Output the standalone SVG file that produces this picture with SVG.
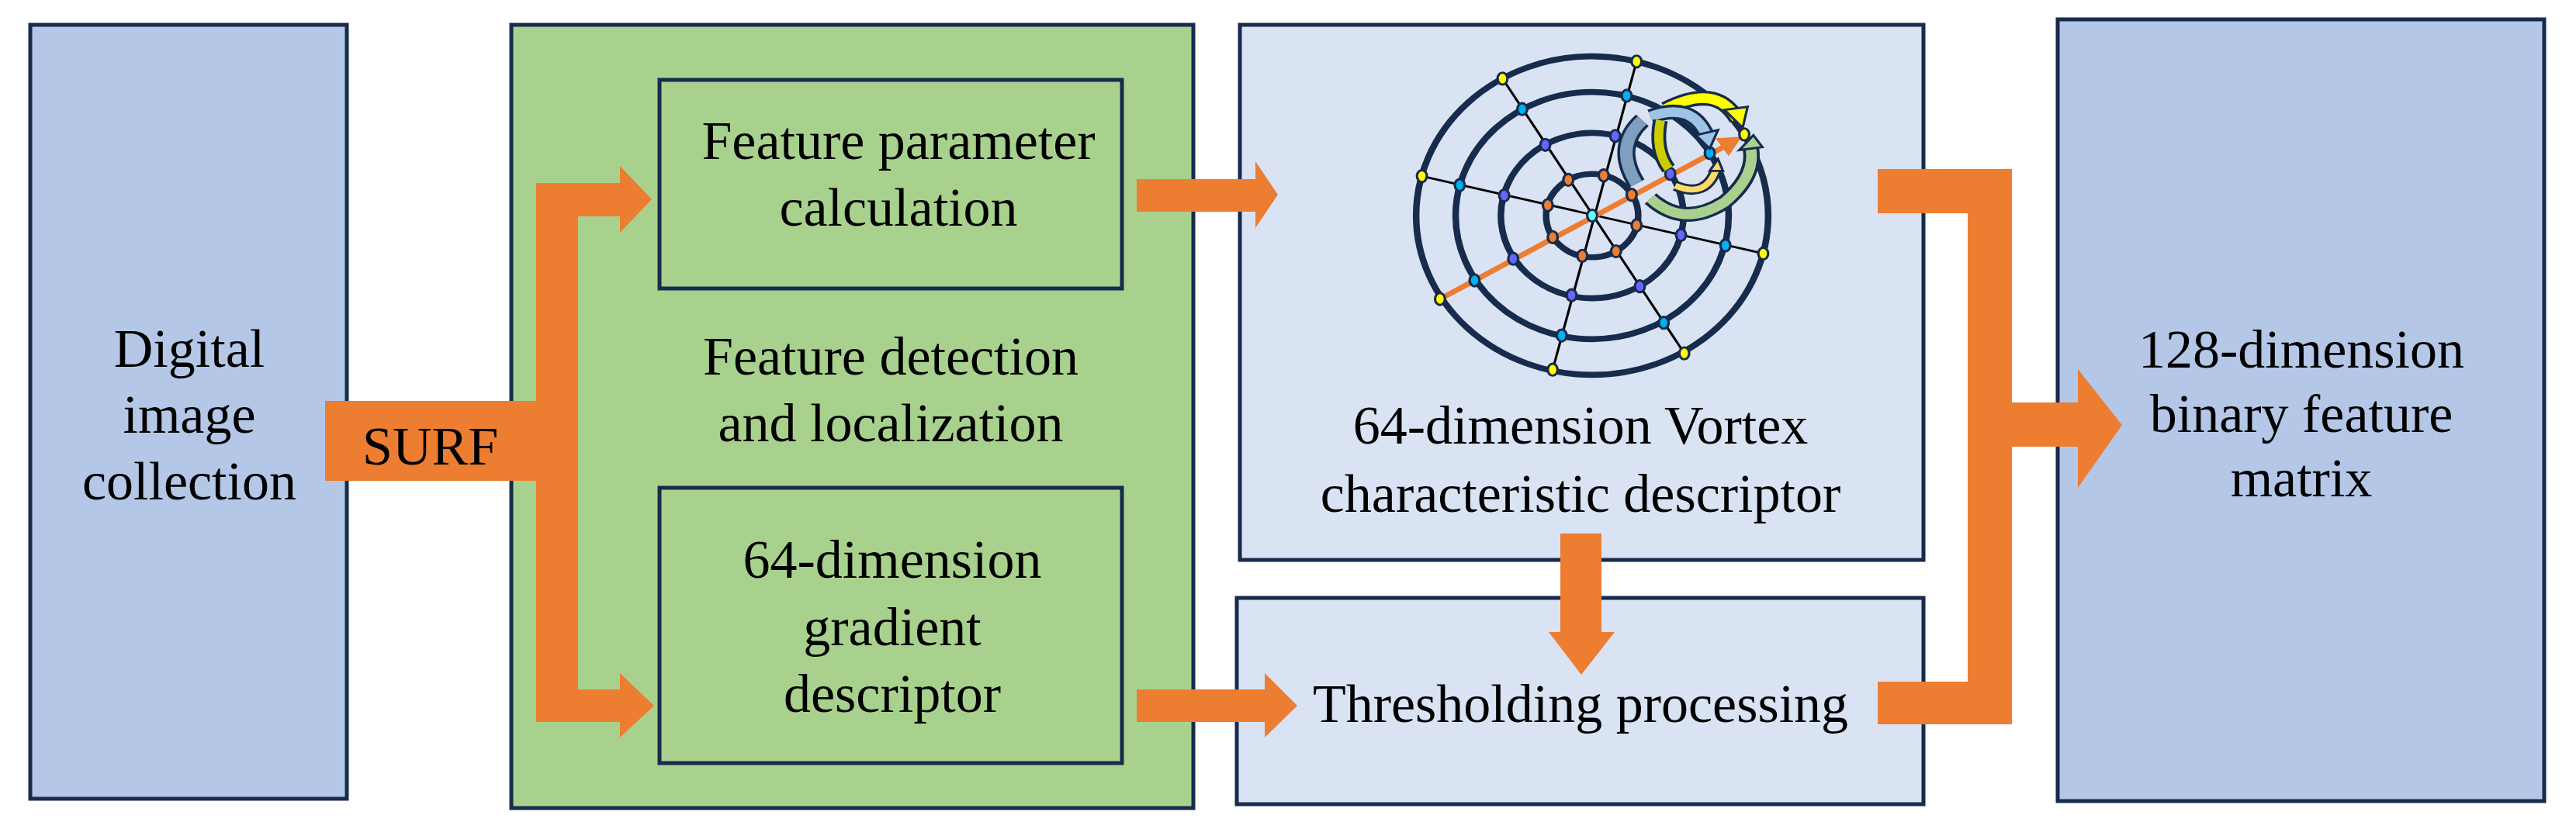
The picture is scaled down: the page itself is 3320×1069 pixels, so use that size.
<svg xmlns="http://www.w3.org/2000/svg" width="3320" height="1069" viewBox="0 0 3320 1069">
<style>
.t{font-family:"Liberation Serif","Times New Roman",serif;font-size:70px;fill:#000;text-anchor:middle}
.bx{stroke:#172B4D;stroke-width:5}
.o{fill:#ED7D31}
.ring{fill:none;stroke:#172B4D;stroke-width:8}
.sp{stroke:#000;stroke-width:3}
.d{stroke:#172B4D;stroke-width:3}
</style>
<rect width="3320" height="1069" fill="#fff"/>
<g id="digital"><rect class="bx" x="39" y="32" width="408" height="998" fill="#B4C7E7"/>
<text class="t" x="244" y="473">Digital</text><text class="t" x="244" y="558">image</text><text class="t" x="244" y="644">collection</text></g>
<g id="detection"><rect class="bx" x="659" y="32" width="879" height="1010" fill="#A9D18E"/>
<text class="t" x="1148" y="483">Feature detection</text><text class="t" x="1148" y="569">and localization</text></g>
<g id="param"><rect class="bx" x="850" y="103" width="596" height="269" fill="#A9D18E"/>
<text class="t" x="1158" y="205">Feature parameter</text><text class="t" x="1158" y="291">calculation</text></g>
<g id="gradient"><rect class="bx" x="850" y="629" width="596" height="355" fill="#A9D18E"/>
<text class="t" x="1150" y="745">64-dimension</text><text class="t" x="1150" y="832">gradient</text><text class="t" x="1150" y="918">descriptor</text></g>
<g id="vortex"><rect class="bx" x="1598" y="32" width="881" height="690" fill="#DAE3F3"/>
<g transform="translate(2052,278) scale(1.06,0.96)">
<circle class="ring" r="214"/><circle class="ring" r="166"/><circle class="ring" r="111"/><circle class="ring" r="56"/>
<line class="sp" x1="54" y1="-207" x2="-48" y2="207"/>
<line class="sp" x1="-109" y1="-184" x2="112" y2="185"/>
<line class="sp" x1="-207" y1="-53" x2="208" y2="51"/>
<line x1="-185" y1="112" x2="168" y2="-97" stroke="#ED7D31" stroke-width="7"/>
<polygon points="182,-106 150,-104 166,-80" fill="#ED7D31"/>
<g fill="#FFFF00" class="d"><ellipse cx="54" cy="-207" rx="6" ry="8"/><ellipse cx="-48" cy="207" rx="6" ry="8"/><ellipse cx="-109" cy="-184" rx="6" ry="8"/><ellipse cx="112" cy="185" rx="6" ry="8"/><ellipse cx="-207" cy="-53" rx="6" ry="8"/><ellipse cx="208" cy="51" rx="6" ry="8"/><ellipse cx="-185" cy="112" rx="6" ry="8"/><ellipse cx="185" cy="-109" rx="6" ry="8"/></g>
<g fill="#00B0F0" class="d"><ellipse cx="42" cy="-161" rx="6" ry="8"/><ellipse cx="-37" cy="161" rx="6" ry="8"/><ellipse cx="-85" cy="-143" rx="6" ry="8"/><ellipse cx="87" cy="144" rx="6" ry="8"/><ellipse cx="-161" cy="-41" rx="6" ry="8"/><ellipse cx="162" cy="40" rx="6" ry="8"/><ellipse cx="-143" cy="87" rx="6" ry="8"/><ellipse cx="143" cy="-84" rx="6" ry="8"/></g>
<g fill="#6666FF" class="d"><ellipse cx="28" cy="-107" rx="6" ry="8"/><ellipse cx="-25" cy="107" rx="6" ry="8"/><ellipse cx="-57" cy="-95" rx="6" ry="8"/><ellipse cx="58" cy="95" rx="6" ry="8"/><ellipse cx="-107" cy="-27" rx="6" ry="8"/><ellipse cx="108" cy="26" rx="6" ry="8"/><ellipse cx="-96" cy="58" rx="6" ry="8"/><ellipse cx="95" cy="-56" rx="6" ry="8"/></g>
<g fill="#ED7D31" class="d"><ellipse cx="14" cy="-54" rx="6" ry="8"/><ellipse cx="-12" cy="54" rx="6" ry="8"/><ellipse cx="-29" cy="-48" rx="6" ry="8"/><ellipse cx="29" cy="48" rx="6" ry="8"/><ellipse cx="-54" cy="-14" rx="6" ry="8"/><ellipse cx="54" cy="13" rx="6" ry="8"/><ellipse cx="-48" cy="29" rx="6" ry="8"/><ellipse cx="48" cy="-28" rx="6" ry="8"/></g>
<ellipse fill="#66FFFF" class="d" cx="0" cy="0" rx="6" ry="8"/>
<g transform="translate(-2039,-268)">
<g fill="none" stroke-linecap="butt">
<path d="M2128,125 Q2190,90 2215,138" stroke="#172B4D" stroke-width="20"/><path d="M2128,125 Q2190,90 2215,138" stroke="#FFFF00" stroke-width="13"/>
<path d="M2100,140 Q2065,175 2093,225" stroke="#172B4D" stroke-width="22"/><path d="M2100,140 Q2065,175 2093,225" stroke="#7F9FBF" stroke-width="15"/>
<path d="M2110,135 Q2160,115 2178,160" stroke="#172B4D" stroke-width="20"/><path d="M2110,135 Q2160,115 2178,160" stroke="#9DC3E6" stroke-width="13"/>
<path d="M2122,140 Q2115,180 2132,205" stroke="#172B4D" stroke-width="18"/><path d="M2122,140 Q2115,180 2132,205" stroke="#CCCC00" stroke-width="11"/>
<path d="M2110,245 Q2150,285 2200,250 Q2238,215 2232,178" stroke="#172B4D" stroke-width="20"/><path d="M2110,245 Q2150,285 2200,250 Q2238,215 2232,178" stroke="#A9D18E" stroke-width="13"/>
<path d="M2140,228 Q2178,245 2190,205" stroke="#172B4D" stroke-width="14"/><path d="M2140,228 Q2178,245 2190,205" stroke="#FFD966" stroke-width="8"/>
</g>
<g stroke="#172B4D" stroke-width="3">
<polygon points="2200,126 2228,122 2222,150" fill="#FFFF00"/>
<polygon points="2165,160 2192,153 2182,178" fill="#9DC3E6"/>
<polygon points="2218,180 2246,176 2235,160" fill="#A9D18E"/>
<polygon points="2182,208 2198,208 2192,192" fill="#FFD966"/>
</g>
</g>
</g>
<text class="t" x="2037" y="572">64-dimension Vortex</text><text class="t" x="2037" y="660">characteristic descriptor</text></g>
<g id="threshold"><rect class="bx" x="1594" y="771" width="885" height="266" fill="#DAE3F3"/>
<text class="t" x="2037" y="931">Thresholding processing</text></g>
<g id="binary"><rect class="bx" x="2652" y="25" width="627" height="1008" fill="#B4C7E7"/>
<text class="t" x="2966" y="474">128-dimension</text><text class="t" x="2966" y="557">binary feature</text><text class="t" x="2966" y="640">matrix</text></g>
<g id="connectors" class="o">
<polygon points="419,517 691,517 691,236 799,236 799,214 840,257 799,300 799,279 745,279 745,889 799,889 799,868 843,910 799,951 799,931 691,931 691,620 419,620"/>
<text x="467" y="599" style="font-family:'Liberation Serif',serif;font-size:70px;fill:#000">SURF</text>
<polygon points="1465,231 1618,231 1618,208 1647,251 1618,294 1618,273 1465,273"/>
<polygon points="1465,889 1630,889 1630,868 1672,910 1630,951 1630,931 1465,931"/>
<polygon points="2011,688 2064,688 2064,815 2081,815 2038,870 1996,815 2011,815"/>
<polygon points="2420,218 2593,218 2593,519 2678,519 2678,476 2735,548 2678,629 2678,576 2593,576 2593,934 2420,934 2420,879 2536,879 2536,275 2420,275"/>
</g>
</svg>
